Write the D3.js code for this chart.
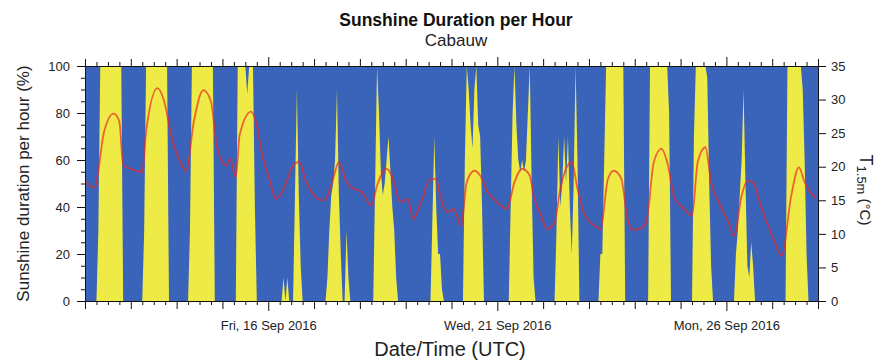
<!DOCTYPE html>
<html>
<head>
<meta charset="utf-8">
<script src="https://cdn.jsdelivr.net/npm/d3@7"></script>
<style>
  body { margin: 0; background: #fff; }
  svg { display: block; font-family: "Liberation Sans", Arial, Helvetica, sans-serif; }
</style>
</head>
<body>
<svg id="chart" width="882" height="360"></svg>
<script>
// one row per day, 12 Sep .. 27 Sep 2016
const days = ['2016-09-12', '2016-09-13', '2016-09-14', '2016-09-15', '2016-09-16', '2016-09-17',
  '2016-09-18', '2016-09-19', '2016-09-20', '2016-09-21', '2016-09-22', '2016-09-23',
  '2016-09-24', '2016-09-25', '2016-09-26', '2016-09-27']

// UTC hours covered by each row below (other hours are night, 0 %)
const sunHours = [4, 5, 6, 7, 8, 9, 10, 11, 12, 13, 14, 15, 16, 17, 18, 19, 20]

// sunshine duration per hour (%)
const sunshine = [
  [0, 0, 0, 30, 100, 100, 100, 100, 100, 100, 100, 100, 100, 100, 100, 100, 0],
  [0, 0, 0, 30, 100, 100, 100, 100, 100, 100, 100, 100, 100, 100, 100, 100, 0],
  [0, 0, 0, 30, 100, 100, 100, 100, 100, 100, 100, 100, 100, 100, 100, 100, 0],
  [0, 0, 0, 0, 100, 100, 100, 100, 100, 88, 100, 100, 100, 40, 0, 0, 0],
  [0, 0, 0, 0, 10, 0, 10, 0, 0, 0, 45, 90, 45, 15, 0, 0, 0],
  [0, 0, 0, 10, 30, 45, 50, 60, 90, 45, 20, 0, 0, 30, 10, 0, 0],
  [0, 0, 0, 0, 50, 100, 80, 55, 45, 50, 60, 70, 55, 40, 30, 10, 0],
  [0, 0, 0, 0, 0, 0, 0, 0, 0, 0, 35, 70, 40, 20, 20, 5, 0],
  [0, 0, 0, 60, 100, 90, 75, 65, 90, 100, 75, 70, 40, 0, 0, 0, 0],
  [0, 0, 0, 40, 80, 100, 75, 60, 55, 60, 55, 60, 80, 100, 50, 10, 0],
  [0, 0, 0, 30, 70, 40, 50, 70, 50, 70, 40, 20, 50, 100, 60, 0, 0],
  [0, 0, 20, 20, 60, 100, 100, 100, 100, 100, 100, 100, 100, 100, 100, 0, 0],
  [0, 0, 0, 0, 100, 100, 100, 100, 100, 100, 100, 100, 100, 100, 80, 0, 0],
  [0, 0, 0, 70, 100, 100, 100, 100, 100, 100, 95, 50, 15, 0, 0, 0, 0],
  [0, 20, 30, 45, 60, 90, 50, 15, 10, 25, 15, 0, 0, 0, 0, 0, 0],
  [0, 0, 0, 0, 100, 100, 100, 100, 100, 100, 100, 100, 90, 60, 20, 0, 0]
]

// 1.5 m air temperature, hours since 12 Sep 2016 00:00 UTC
const tempHours = [0, 5, 10, 15, 18, 20, 24, 30, 32, 38, 41, 46, 50, 53, 57, 62, 66, 69, 74, 76,
  79, 81, 87, 89, 93, 97, 100, 104, 109, 112, 116, 122, 125, 127, 130, 133, 137, 141, 145, 150,
  153, 158, 162, 165, 169, 172, 176, 181, 184, 186, 190, 193, 197, 200, 204, 207, 211, 214, 218, 221,
  225, 229, 233, 235, 239, 242, 246, 249, 255, 258, 262, 267, 270, 274, 277, 281, 284, 287, 290, 294,
  298, 302, 305, 309, 314, 318, 321, 325, 328, 332, 337, 340, 344, 347, 350, 354, 360, 365, 370, 374,
  377, 383]
const tempValues = [17.9, 16.9, 25.2, 27.9, 26.7, 20.2, 19.7, 19.2, 25.2, 31.7, 30.2, 23.7, 20.7, 19.4, 26.7, 31.4, 29.7, 23.2, 20.2, 21.2,
  18.4, 24.7, 28.2, 27.2, 21.7, 17.7, 15.2, 16.7, 20.2, 20.7, 17.7, 15.2, 15.0, 15.7, 18.2, 20.7, 17.7, 16.7, 16.2, 14.2,
  17.2, 19.7, 17.7, 14.7, 15.2, 12.2, 14.7, 18.2, 18.2, 15.7, 13.2, 13.7, 11.2, 17.7, 19.4, 18.7, 16.2, 15.2, 14.2, 13.7,
  17.7, 19.7, 18.7, 15.7, 12.7, 10.7, 11.7, 16.7, 20.7, 16.7, 12.7, 11.2, 10.7, 18.2, 19.4, 18.2, 12.5, 10.6, 10.7, 11.7,
  20.7, 22.7, 20.7, 15.2, 13.7, 12.7, 20.7, 22.9, 17.7, 14.7, 11.7, 9.7, 15.7, 17.9, 17.7, 14.2, 9.7, 6.7, 15.7, 19.9,
  17.7, 15.2]

const dateLabels = ['2016-09-16', '2016-09-21', '2016-09-26']
const sunTicks = [0, 20, 40, 60, 80, 100]
const sunMinorTicks = [5, 10, 15, 25, 30, 35, 45, 50, 55, 65, 70, 75, 85, 90, 95]
const tempTicks = [0, 5, 10, 15, 20, 25, 30, 35]

const width = 882
const height = 360
const margin = { top: 66, right: 64, bottom: 59, left: 85 }
const blue = '#3a63ba'
const yellow = '#efeb46'

const parseDay = d3.utcParse('%Y-%m-%d')
const dayKey = d3.utcFormat('%Y-%m-%d')
const start = parseDay(days[0])
const end = d3.utcDay.offset(parseDay(days[days.length - 1]), 1)

// hourly sunshine series, night hours 0
const sunSeries = []
days.forEach((day, i) => {
  const d0 = parseDay(day)
  for (let h = 0; h < 24; h++) {
    const k = sunHours.indexOf(h)
    sunSeries.push({ t: d3.utcHour.offset(d0, h), v: k >= 0 ? sunshine[i][k] : 0 })
  }
})
sunSeries.push({ t: end, v: 0 })

const tempSeries = tempHours.map((h, i) => ({ t: d3.utcHour.offset(start, h), v: tempValues[i] }))

const x = d3.scaleUtc().domain([start, end]).range([margin.left, width - margin.right])
const y = d3.scaleLinear().domain([0, 100]).range([height - margin.bottom, margin.top])
const yT = d3.scaleLinear().domain([0, 35]).range([height - margin.bottom, margin.top])

const svg = d3.select('#chart')

svg.append('clipPath').attr('id', 'plot-clip')
  .append('rect')
  .attr('x', margin.left).attr('y', margin.top)
  .attr('width', width - margin.left - margin.right)
  .attr('height', height - margin.top - margin.bottom)

// background (no sunshine)
svg.append('rect')
  .attr('x', margin.left).attr('y', margin.top)
  .attr('width', width - margin.left - margin.right)
  .attr('height', height - margin.top - margin.bottom)
  .attr('fill', blue)

const plot = svg.append('g').attr('clip-path', 'url(#plot-clip)')

const area = d3.area()
  .x(d => x(d.t))
  .y0(y(0))
  .y1(d => y(d.v))

plot.append('path')
  .datum(sunSeries)
  .attr('d', area)
  .attr('fill', yellow)

const line = d3.line()
  .x(d => x(d.t))
  .y(d => yT(d.v))
  .curve(d3.curveMonotoneX)

plot.append('path')
  .datum(tempSeries)
  .attr('d', line)
  .attr('fill', 'none')
  .attr('stroke', '#ea2a2a')
  .attr('stroke-opacity', 0.7)
  .attr('stroke-width', 1.8)

// axes
const dayTicks = d3.utcDay.range(start, d3.utcHour.offset(end, 1))
const sixHourTicks = d3.utcHour.every(6).range(start, end).filter(d => d.getUTCHours() !== 0)
const labelSet = new Set(dateLabels)
const fmt = d3.utcFormat('%a, %-d %b %Y')

function styleAxis (g) {
  g.attr('font-family', null).attr('font-size', null)
  g.selectAll('.domain').attr('stroke', '#111')
  g.selectAll('.tick line').attr('stroke', '#111')
  g.selectAll('text').attr('fill', '#222').style('font-size', '13px')
}

const bottomAxis = svg.append('g')
  .attr('transform', `translate(0,${height - margin.bottom})`)
  .call(d3.axisBottom(x).tickValues(dayTicks).tickSize(8).tickPadding(12)
    .tickFormat(d => labelSet.has(dayKey(d)) ? fmt(d) : ''))
  .call(styleAxis)
bottomAxis.selectAll('.tick').filter(d => labelSet.has(dayKey(d))).select('line').attr('y2', 10)

svg.append('g')
  .attr('transform', `translate(0,${height - margin.bottom})`)
  .call(d3.axisBottom(x).tickValues(sixHourTicks).tickSize(4).tickFormat(''))
  .call(styleAxis)

const topAxis = svg.append('g')
  .attr('transform', `translate(0,${margin.top})`)
  .call(d3.axisTop(x).tickValues(dayTicks).tickSize(7).tickFormat(''))
  .call(styleAxis)
topAxis.selectAll('.tick').filter(d => labelSet.has(dayKey(d))).select('line').attr('y2', -9)

svg.append('g')
  .attr('transform', `translate(0,${margin.top})`)
  .call(d3.axisTop(x).tickValues(sixHourTicks).tickSize(4).tickFormat(''))
  .call(styleAxis)

svg.append('g')
  .attr('transform', `translate(${margin.left},0)`)
  .call(d3.axisLeft(y).tickValues(sunTicks).tickSize(8).tickPadding(7))
  .call(styleAxis)

svg.append('g')
  .attr('transform', `translate(${margin.left},0)`)
  .call(d3.axisLeft(y).tickValues(sunMinorTicks).tickSize(4).tickFormat(''))
  .call(styleAxis)

svg.append('g')
  .attr('transform', `translate(${width - margin.right},0)`)
  .call(d3.axisRight(yT).tickValues(tempTicks).tickSize(8).tickPadding(5))
  .call(styleAxis)

// titles
const cx = 456
svg.append('text')
  .attr('x', cx).attr('y', 26)
  .attr('text-anchor', 'middle')
  .style('font-size', '17.5px').style('font-weight', 'bold')
  .attr('fill', '#111')
  .text('Sunshine Duration per Hour')

svg.append('text')
  .attr('x', cx).attr('y', 46)
  .attr('text-anchor', 'middle')
  .style('font-size', '17px')
  .attr('fill', '#222')
  .text('Cabauw')

svg.append('text')
  .attr('x', 450).attr('y', 356)
  .attr('text-anchor', 'middle')
  .style('font-size', '20px')
  .attr('fill', '#222')
  .text('Date/Time (UTC)')

svg.append('text')
  .attr('transform', `translate(29,${(margin.top + height - margin.bottom) / 2}) rotate(-90)`)
  .attr('text-anchor', 'middle')
  .style('font-size', '17px')
  .attr('fill', '#222')
  .text('Sunshine duration per hour (%)')

const tLabel = svg.append('text')
  .attr('transform', `translate(860,190) rotate(90)`)
  .attr('text-anchor', 'middle')
  .attr('fill', '#222')
  .style('font-size', '18px')
tLabel.append('tspan').text('T')
tLabel.append('tspan').style('font-size', '13px').attr('dy', 3).text('1.5m')
tLabel.append('tspan').style('font-size', '15px').attr('dy', -3).text(' (°C)')
</script>
</body>
</html>
